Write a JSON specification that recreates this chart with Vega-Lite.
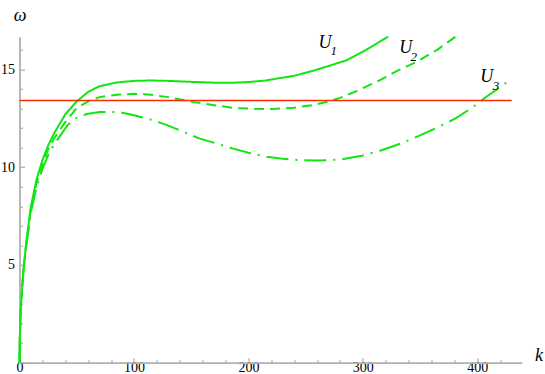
{
  "$schema": "https://vega.github.io/schema/vega-lite/v6.json",
  "width": 502.2,
  "height": 326,
  "autosize": {"type": "none"},
  "padding": {"left": 19.5, "top": 36.7, "right": 23.3, "bottom": 11.3},
  "background": "white",
  "config": {
    "view": {"stroke": null},
    "font": "Liberation Serif",
    "axis": {"labelOverlap": false, "labelFlush": false, "labelBound": false, "labelSeparation": -100},
    "axisX": {"labelOverlap": false, "labelSeparation": -100},
    "axisY": {"labelOverlap": false, "labelSeparation": -100}
  },
  "datasets": {
    "curves": [
      {"s": "U1", "k": 0, "w": 0}, {"s": "U1", "k": 0.3, "w": 1.4}, {"s": "U1", "k": 1, "w": 2.6}, {"s": "U1", "k": 2, "w": 3.6}, {"s": "U1", "k": 3.5, "w": 4.8}, {"s": "U1", "k": 6, "w": 6.2}, {"s": "U1", "k": 10, "w": 8.0}, {"s": "U1", "k": 15, "w": 9.4}, {"s": "U1", "k": 20, "w": 10.35}, {"s": "U1", "k": 25, "w": 11.1}, {"s": "U1", "k": 30, "w": 11.7}, {"s": "U1", "k": 40, "w": 12.7}, {"s": "U1", "k": 50, "w": 13.36}, {"s": "U1", "k": 60, "w": 13.85}, {"s": "U1", "k": 70, "w": 14.14}, {"s": "U1", "k": 85, "w": 14.33}, {"s": "U1", "k": 100, "w": 14.41}, {"s": "U1", "k": 115, "w": 14.43}, {"s": "U1", "k": 130, "w": 14.41}, {"s": "U1", "k": 150, "w": 14.36}, {"s": "U1", "k": 170, "w": 14.32}, {"s": "U1", "k": 185, "w": 14.31}, {"s": "U1", "k": 200, "w": 14.35}, {"s": "U1", "k": 215, "w": 14.43}, {"s": "U1", "k": 227, "w": 14.55}, {"s": "U1", "k": 240, "w": 14.67}, {"s": "U1", "k": 256, "w": 14.92}, {"s": "U1", "k": 270, "w": 15.17}, {"s": "U1", "k": 286, "w": 15.47}, {"s": "U1", "k": 303, "w": 16.0}, {"s": "U1", "k": 322, "w": 16.67},
      {"s": "U2", "k": 0, "w": 0}, {"s": "U2", "k": 0.3, "w": 1.4}, {"s": "U2", "k": 1, "w": 2.55}, {"s": "U2", "k": 2, "w": 3.55}, {"s": "U2", "k": 3.5, "w": 4.75}, {"s": "U2", "k": 6, "w": 6.1}, {"s": "U2", "k": 10, "w": 7.9}, {"s": "U2", "k": 15, "w": 9.2}, {"s": "U2", "k": 20, "w": 10.15}, {"s": "U2", "k": 25, "w": 10.9}, {"s": "U2", "k": 30, "w": 11.45}, {"s": "U2", "k": 40, "w": 12.3}, {"s": "U2", "k": 50, "w": 13.02}, {"s": "U2", "k": 60, "w": 13.36}, {"s": "U2", "k": 70, "w": 13.58}, {"s": "U2", "k": 85, "w": 13.7}, {"s": "U2", "k": 100, "w": 13.75}, {"s": "U2", "k": 115, "w": 13.7}, {"s": "U2", "k": 130, "w": 13.58}, {"s": "U2", "k": 150, "w": 13.35}, {"s": "U2", "k": 170, "w": 13.17}, {"s": "U2", "k": 186, "w": 13.03}, {"s": "U2", "k": 205, "w": 12.98}, {"s": "U2", "k": 221, "w": 12.97}, {"s": "U2", "k": 240, "w": 13.04}, {"s": "U2", "k": 256, "w": 13.17}, {"s": "U2", "k": 270, "w": 13.36}, {"s": "U2", "k": 280, "w": 13.54}, {"s": "U2", "k": 295, "w": 13.9}, {"s": "U2", "k": 315, "w": 14.45}, {"s": "U2", "k": 330, "w": 14.92}, {"s": "U2", "k": 347, "w": 15.39}, {"s": "U2", "k": 365, "w": 16.0}, {"s": "U2", "k": 381, "w": 16.67},
      {"s": "U3", "k": 0, "w": 0}, {"s": "U3", "k": 0.3, "w": 1.35}, {"s": "U3", "k": 1, "w": 2.5}, {"s": "U3", "k": 2, "w": 3.5}, {"s": "U3", "k": 3.5, "w": 4.7}, {"s": "U3", "k": 6, "w": 6.0}, {"s": "U3", "k": 10, "w": 7.7}, {"s": "U3", "k": 15, "w": 9.0}, {"s": "U3", "k": 20, "w": 9.9}, {"s": "U3", "k": 25, "w": 10.6}, {"s": "U3", "k": 30, "w": 11.15}, {"s": "U3", "k": 42, "w": 12.15}, {"s": "U3", "k": 51, "w": 12.58}, {"s": "U3", "k": 60, "w": 12.73}, {"s": "U3", "k": 70, "w": 12.82}, {"s": "U3", "k": 80, "w": 12.83}, {"s": "U3", "k": 90, "w": 12.78}, {"s": "U3", "k": 99, "w": 12.67}, {"s": "U3", "k": 115, "w": 12.42}, {"s": "U3", "k": 129, "w": 12.15}, {"s": "U3", "k": 143, "w": 11.81}, {"s": "U3", "k": 157, "w": 11.47}, {"s": "U3", "k": 172, "w": 11.21}, {"s": "U3", "k": 186, "w": 10.96}, {"s": "U3", "k": 200, "w": 10.74}, {"s": "U3", "k": 216, "w": 10.53}, {"s": "U3", "k": 230, "w": 10.43}, {"s": "U3", "k": 245, "w": 10.36}, {"s": "U3", "k": 262, "w": 10.34}, {"s": "U3", "k": 282, "w": 10.4}, {"s": "U3", "k": 300, "w": 10.6}, {"s": "U3", "k": 315, "w": 10.84}, {"s": "U3", "k": 332, "w": 11.18}, {"s": "U3", "k": 350, "w": 11.62}, {"s": "U3", "k": 366, "w": 12.05}, {"s": "U3", "k": 381, "w": 12.49}, {"s": "U3", "k": 395, "w": 13.02}, {"s": "U3", "k": 408, "w": 13.6}, {"s": "U3", "k": 420, "w": 14.09}, {"s": "U3", "k": 430, "w": 14.54}
    ],
    "level": [{"k": 0, "w": 13.41}, {"k": 430, "w": 13.41}],
    "names": [{"t": "U", "k": 266.9, "w": 16.34}, {"t": "U", "k": 337.5, "w": 16.07}, {"t": "U", "k": 408.2, "w": 14.62}],
    "subs": [{"t": "1", "k": 274.6, "w": 15.95}, {"t": "2", "k": 344.5, "w": 15.64}, {"t": "3", "k": 416.3, "w": 14.16}]
  },
  "encoding": {
    "x": {
      "field": "k", "type": "quantitative",
      "scale": {"domain": [0, 438.8], "nice": false, "zero": false},
      "axis": {
        "values": [0, 20, 40, 60, 80, 100, 120, 140, 160, 180, 200, 220, 240, 260, 280, 300, 320, 340, 360, 380, 400, 420],
        "labelExpr": "datum.value % 100 === 0 ? datum.label : ''",
        "tickSize": {"condition": {"test": "datum.value % 100 === 0", "value": -5}, "value": -3},
        "tickColor": "#9a9a9a", "tickWidth": 1,
        "domainColor": "#b0b0b0", "domainWidth": 1.8,
        "labelFont": "Liberation Serif", "labelFontSize": 14, "labelColor": "#000000",
        "labelBaseline": "alphabetic",
        "labelPadding": 14, "labelFlush": false, "labelOverlap": false, "labelSeparation": -100, "grid": false,
        "title": "k", "titleFont": "Liberation Serif", "titleFontStyle": "italic", "titleFontWeight": "normal",
        "titleFontSize": 18, "titleColor": "#000000", "titleX": 519, "titleY": -2.7,
        "titleAlign": "center", "titleBaseline": "alphabetic"
      }
    },
    "y": {
      "field": "w", "type": "quantitative",
      "scale": {"domain": [0, 16.67], "nice": false, "zero": false},
      "axis": {
        "values": [0, 1, 2, 3, 4, 5, 6, 7, 8, 9, 10, 11, 12, 13, 14, 15, 16],
        "labelExpr": "datum.value % 5 === 0 && datum.value > 0 ? datum.label : ''",
        "tickSize": {"condition": {"test": "datum.value % 5 === 0", "value": -5}, "value": -3},
        "tickColor": "#9a9a9a", "tickWidth": 1,
        "domainColor": "#b0b0b0", "domainWidth": 1.8,
        "labelFont": "Liberation Serif", "labelFontSize": 14, "labelColor": "#000000",
        "labelPadding": 10, "labelFlush": false, "labelOverlap": false, "labelSeparation": -100, "grid": false,
        "title": "ω", "titleFont": "Liberation Serif", "titleFontStyle": "italic", "titleFontWeight": "normal",
        "titleFontSize": 18, "titleColor": "#000000", "titleAngle": 0, "titleX": 0, "titleY": -16.7,
        "titleAlign": "center", "titleBaseline": "alphabetic"
      }
    }
  },
  "layer": [
    {
      "data": {"name": "curves"},
      "mark": {"type": "line", "strokeWidth": 2, "color": "#12e612"},
      "encoding": {
        "detail": {"field": "s"},
        "strokeDash": {
          "field": "s", "type": "nominal",
          "scale": {"domain": ["U1", "U2", "U3"], "range": [[1, 0], [10, 6], [22, 7, 2, 7]]},
          "legend": null
        }
      }
    },
    {
      "data": {"name": "level"},
      "mark": {"type": "line", "strokeWidth": 1.6, "color": "#ff2a00"},
      "encoding": {}
    },
    {
      "data": {"name": "names"},
      "mark": {"type": "text", "font": "Liberation Serif", "fontStyle": "italic", "fontSize": 18, "color": "#000000", "align": "center", "baseline": "middle"},
      "encoding": {"text": {"field": "t"}}
    },
    {
      "data": {"name": "subs"},
      "mark": {"type": "text", "font": "Liberation Serif", "fontStyle": "italic", "fontSize": 13, "color": "#000000", "align": "center", "baseline": "middle"},
      "encoding": {"text": {"field": "t"}}
    }
  ]
}
